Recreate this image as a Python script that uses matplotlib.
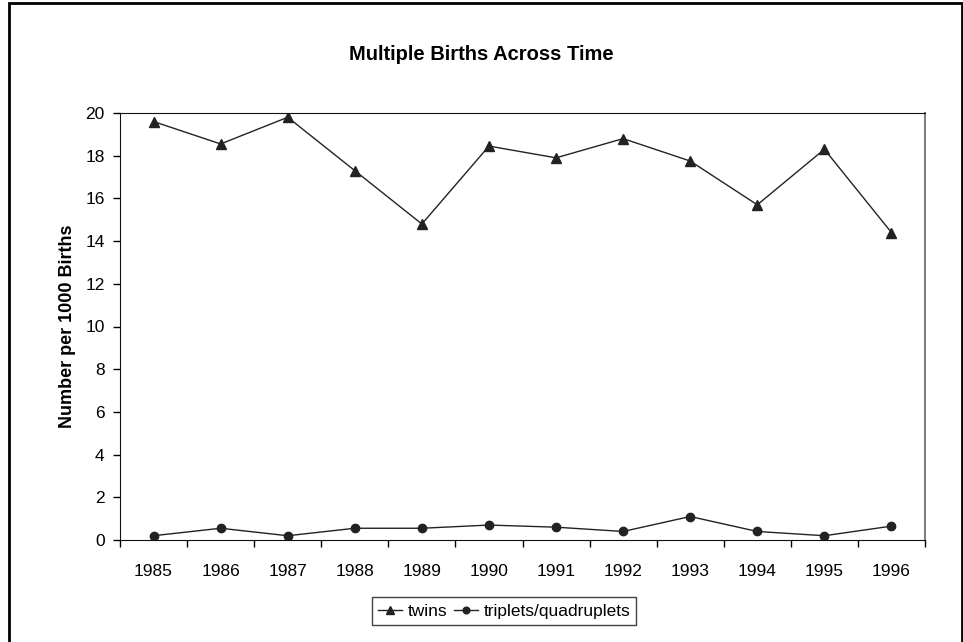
import matplotlib.pyplot as plt
from matplotlib.patches import Rectangle

years = ["1985", "1986", "1987", "1988", "1989", "1990",
         "1991", "1992", "1993", "1994", "1995", "1996"]
twins = [19.6, 18.55, 19.8, 17.3, 14.8, 18.45, 17.9, 18.8, 17.75, 15.7, 18.3, 14.4]
triplets = [0.2, 0.55, 0.2, 0.55, 0.55, 0.7, 0.6, 0.4, 1.1, 0.4, 0.2, 0.65]

plt.rcParams["font.family"] = ["Liberation Sans", "DejaVu Sans"]

fig = plt.figure(figsize=(9.63, 6.42), dpi=100)
ax = fig.add_axes([120 / 963, 1 - 540 / 642, 805 / 963, 427 / 642])

x = list(range(len(years)))
ax.plot(x, twins, color="#222222", lw=1, marker="^", ms=7, label="twins")
ax.plot(x, triplets, color="#222222", lw=1, marker="o", ms=6,
        label="triplets/quadruplets")

ax.set_xlim(-0.5, len(years) - 0.5)
ax.set_ylim(0, 20)
ax.set_yticks(range(0, 21, 2))
ax.set_xticks([i - 0.5 for i in range(len(years) + 1)])
ax.set_xticklabels([])
ax.set_xticks(x, minor=True)
ax.set_xticklabels(years, minor=True)
ax.tick_params(axis="x", which="major", direction="out", length=5, width=1)
ax.tick_params(axis="x", which="minor", length=0, pad=17, labelsize=12.5)
ax.tick_params(axis="y", direction="out", length=5, width=1, pad=6,
               labelsize=12.5)

for side in ("left", "bottom", "top"):
    ax.spines[side].set_color("#111111")
ax.spines["right"].set_color("#808080")
ax.spines["right"].set_linewidth(1.5)

ax.set_ylabel("Number per 1000 Births", fontsize=13, fontweight="bold",
              labelpad=7)
fig.text(0.5, 1 - 55 / 642, "Multiple Births Across Time", ha="center",
         va="center", fontsize=14.5, fontweight="bold")

leg = fig.legend(loc="center", bbox_to_anchor=(504 / 963, 1 - 611 / 642),
                 ncol=2, fontsize=12.5, frameon=True, fancybox=False,
                 handlelength=1.4, handletextpad=0.3, columnspacing=0.4,
                 borderpad=0.35, borderaxespad=0, markerscale=0.8)
leg.get_frame().set_edgecolor("#111111")
leg.get_frame().set_linewidth(1)

fig.patches.append(Rectangle((9 / 963, -0.1), 953 / 963, 1.1 - 3 / 642,
                             transform=fig.transFigure, fill=False,
                             edgecolor="black", lw=2))

fig.savefig("out.png", dpi=100)
